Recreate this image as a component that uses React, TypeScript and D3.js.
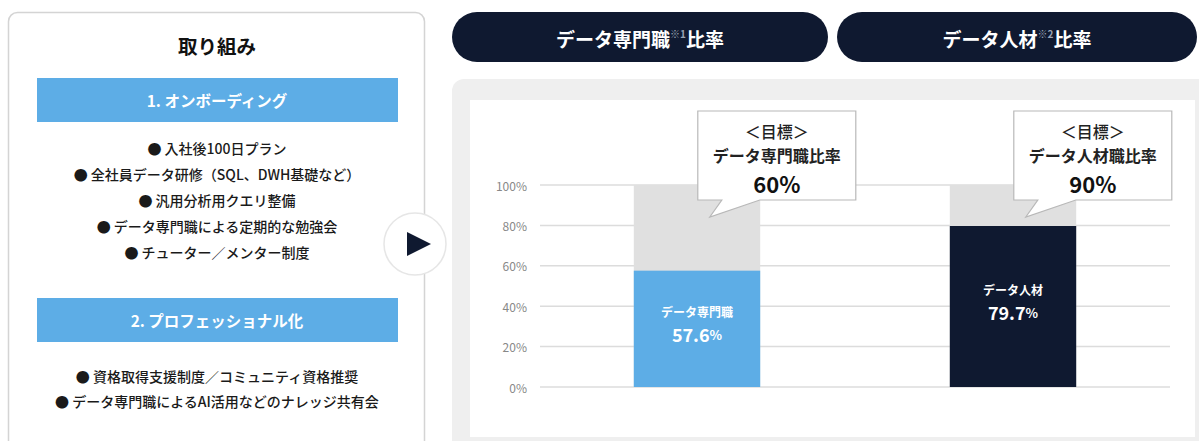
import React from "react";
import * as d3 from "d3";

const categories = ["データ専門職", "データ人材"];
const actualValues = [57.6, 79.7];
const targetValues = [60, 90];
const targetTitles = ["データ専門職比率", "データ人材職比率"];
const headerMain = ["データ専門職", "データ人材"];
const headerNote = ["※1", "※2"];
const barColors = ["#5dade6", "#0f1930"];
const tickValues = [0, 20, 40, 60, 80, 100];
const section1Items = [
  "● 入社後100日プラン",
  "● 全社員データ研修（SQL、DWH基礎など）",
  "● 汎用分析用クエリ整備",
  "● データ専門職による定期的な勉強会",
  "● チューター／メンター制度",
];
const section2Items = [
  "● 資格取得支援制度／コミュニティ資格推奨",
  "● データ専門職によるAI活用などのナレッジ共有会",
];

const FONT = "'Noto Sans CJK JP', 'Noto Sans', sans-serif";

export default function App() {
  const W = 1199;
  const H = 441;
  const x = d3.scaleBand<string>().domain(categories).range([539, 1171]).paddingInner(0.6).paddingOuter(0.3);
  const y = d3.scaleLinear().domain([0, 100]).range([387, 185]);
  const bw = x.bandwidth();

  const headerX = [452, 837];
  const headerW = [376, 360];

  return (
    <div style={{ position: "absolute", left: 0, top: 0 }}>
      <svg width={W} height={H} style={{ display: "block", fontFamily: FONT }}>
        <rect x={0} y={0} width={W} height={H} fill="#ffffff" />
        {/* Left panel */}
        <rect x={8.5} y={12.5} width={416} height={460} rx={9} fill="#fff" stroke="#d4d4d4" strokeWidth={1.5} />
        <text x={217} y={45} textAnchor="middle" dominantBaseline="central" fontSize={19.5} fontWeight={700} fill="#111">取り組み</text>
        <rect x={37} y={78} width={361} height={44} fill="#5dade6" />
        <text x={217} y={100} textAnchor="middle" dominantBaseline="central" fontSize={15.5} fontWeight={700} fill="#fff">1. オンボーディング</text>
        {section1Items.map((t, i) => (
          <text key={t} x={217} y={148 + i * 26} textAnchor="middle" dominantBaseline="central" fontSize={14} fontWeight={500} fill="#1a1a1a">{t}</text>
        ))}
        <rect x={37} y={298} width={361} height={44} fill="#5dade6" />
        <text x={217} y={320} textAnchor="middle" dominantBaseline="central" fontSize={15.5} fontWeight={700} fill="#fff">2. プロフェッショナル化</text>
        {section2Items.map((t, i) => (
          <text key={t} x={217} y={376 + i * 25} textAnchor="middle" dominantBaseline="central" fontSize={14} fontWeight={500} fill="#1a1a1a">{t}</text>
        ))}

        {/* Arrow circle */}
        <circle cx={415} cy={244} r={31} fill="#fff" stroke="#e6e6e6" strokeWidth={1.5} />
        <path d="M407,232 L431,244 L407,256 Z" fill="#0f1930" />

        {/* Headers */}
        {headerMain.map((h, i) => (
          <g key={h}>
            <rect x={headerX[i]} y={12} width={headerW[i]} height={50} rx={25} fill="#0f1930" />
            <text x={headerX[i] + headerW[i] / 2} y={38} textAnchor="middle" dominantBaseline="central" fill="#fff" fontSize={19} fontWeight={700}>
              {h}
              <tspan fontSize={10} fill="#9aa3b5" dy={-5}>{headerNote[i]}</tspan>
              <tspan dy={5}>比率</tspan>
            </text>
          </g>
        ))}

        {/* Chart panel */}
        <rect x={452} y={79} width={760} height={380} rx={12} fill="#efefef" />
        <rect x={470} y={100} width={725} height={337} fill="#fff" />

        {tickValues.map((t) => (
          <g key={t}>
            <line x1={540} x2={1170} y1={y(t)} y2={y(t)} stroke="#dcdcdc" strokeWidth={1.5} />
            <text x={527} y={y(t)} textAnchor="end" dominantBaseline="central" fontSize={12} fill="#888">{t}%</text>
          </g>
        ))}

        {categories.map((c, i) => {
          const bx = x(c)!;
          const top = y(actualValues[i]);
          const cy = (top + y(0)) / 2;
          return (
            <g key={c}>
              <rect x={bx} y={y(100)} width={bw} height={y(0) - y(100)} fill="#e0e0e0" />
              <rect x={bx} y={top} width={bw} height={y(0) - top} fill={barColors[i]} />
              <text x={bx + bw / 2} y={cy - 17} textAnchor="middle" dominantBaseline="central" fill="#fff" fontSize={12} fontWeight={700}>{c}</text>
              <text x={bx + bw / 2} y={cy + 5} textAnchor="middle" dominantBaseline="central" fill="#fff" fontSize={18} fontWeight={700}>
                {actualValues[i].toFixed(1)}
                <tspan fontSize={13}>%</tspan>
              </text>
            </g>
          );
        })}

        {/* Callouts */}
        {categories.map((c, i) => {
          const bx = x(c)!;
          const l = bx + 64;
          const r = l + 158;
          const t = 111;
          const b = 200;
          const d = `M${l},${t} L${r},${t} L${r},${b} L${l + 62},${b} L${l + 12},${217} L${l + 24},${b} L${l},${b} Z`;
          const cx = (l + r) / 2;
          return (
            <g key={"c" + c}>
              <path d={d} fill="#fff" stroke="#b8b8b8" strokeWidth={1.2} />
              <text x={cx} y={131} textAnchor="middle" dominantBaseline="central" fontSize={16} fontWeight={500} fill="#222">＜目標＞</text>
              <text x={cx} y={155} textAnchor="middle" dominantBaseline="central" fontSize={16} fontWeight={700} fill="#222">{targetTitles[i]}</text>
              <text x={cx} y={183} textAnchor="middle" dominantBaseline="central" fontSize={22} fontWeight={700} fill="#111">{targetValues[i]}%</text>
            </g>
          );
        })}
      </svg>
    </div>
  );
}
